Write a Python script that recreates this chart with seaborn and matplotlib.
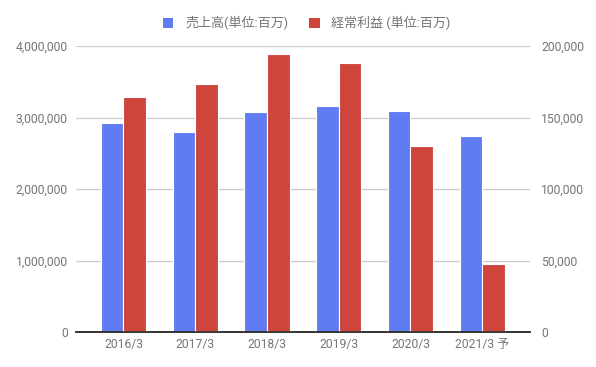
import numpy as np
import pandas as pd
import seaborn as sns
import matplotlib.pyplot as plt
from matplotlib.patches import Patch
from matplotlib.ticker import FuncFormatter

# データ (単位: 百万円)
years = ["2016/3", "2017/3", "2018/3", "2019/3", "2020/3", "2021/3 予"]
sales = [2_920_000, 2_795_000, 3_075_000, 3_157_000, 3_087_000, 2_737_000]
profit = [164_500, 173_400, 194_200, 187_900, 129_900, 47_500]
series = ["売上高(単位:百万)", "経常利益 (単位:百万)"]
colors = ["#5f7cf2", "#ce453c"]

if __name__ == "__main__":
    df = pd.DataFrame({
        "year": years * 2,
        "series": [series[0]] * len(years) + [series[1]] * len(years),
        "value": sales + profit,
    })
    # 左軸用と右軸用に分ける (もう一方はNaNにして位置だけ確保)
    df_left = df.assign(value=np.where(df["series"] == series[0], df["value"], np.nan))
    df_right = df.assign(value=np.where(df["series"] == series[1], df["value"], np.nan))

    sns.set_theme(style="white")
    plt.rcParams["font.family"] = ["Roboto", "Noto Sans CJK JP"]
    grey = "#757575"

    fig = plt.figure(figsize=(5.96, 3.67), dpi=100)
    ax = fig.add_axes([76 / 596, 35 / 367, 454 / 596, 286 / 367])
    ax2 = ax.twinx()

    kw = dict(x="year", y="value", hue="series", hue_order=series,
              palette=colors, width=0.63, gap=0.0, errorbar=None,
              legend=False, saturation=1, edgecolor="white", linewidth=0.8)
    sns.barplot(data=df_left, ax=ax, **kw)
    sns.barplot(data=df_right, ax=ax2, **kw)

    ax.set_xlim(-0.662, 5.666)
    ax.set_ylim(0, 4_000_000)
    ax2.set_ylim(0, 200_000)
    ax.set_yticks(np.arange(0, 4_000_001, 1_000_000))
    ax2.set_yticks(np.arange(0, 200_001, 50_000))
    fmt = FuncFormatter(lambda v, p: f"{v:,.0f}")
    ax.yaxis.set_major_formatter(fmt)
    ax2.yaxis.set_major_formatter(fmt)

    ax.set_axisbelow(True)
    ax.yaxis.grid(True, color="#cccccc", linewidth=0.9)
    for a in (ax, ax2):
        for s in ("top", "left", "right"):
            a.spines[s].set_visible(False)
        a.spines["bottom"].set_color("#333333")
        a.spines["bottom"].set_linewidth(1.2)
        a.spines["bottom"].set_zorder(5)
        a.set_xlabel("")
        a.set_ylabel("")
        a.tick_params(length=0, labelsize=8.7, labelcolor=grey)
    ax.tick_params(axis="y", pad=6)
    ax2.tick_params(axis="y", pad=8)
    ax.tick_params(axis="x", pad=4)

    handles = [Patch(facecolor=c, edgecolor="none", label=s) for s, c in zip(series, colors)]
    leg = fig.legend(handles=handles, loc="center", bbox_to_anchor=(0.515, 0.937), ncol=2,
                     frameon=False, fontsize=9.4, handlelength=0.8, handleheight=0.8,
                     handletextpad=0.9, columnspacing=1.6)
    for t in leg.get_texts():
        t.set_color(grey)

    fig.savefig("out.png", dpi=100)
